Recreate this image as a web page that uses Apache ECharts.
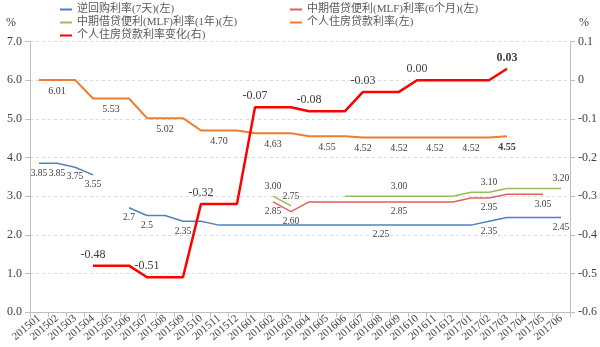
<!DOCTYPE html>
<html><head><meta charset="utf-8">
<script src="https://cdn.jsdelivr.net/npm/echarts@6/dist/echarts.min.js"></script>
<style>html,body{margin:0;padding:0;background:#fff}#c{width:600px;height:347px}</style>
</head><body><div id="c"></div>
<script>
const categories = ['201501','201502','201503','201504','201505','201506','201507','201508','201509','201510','201511','201512',
  '201601','201602','201603','201604','201605','201606','201607','201608','201609','201610','201611','201612',
  '201701','201702','201703','201704','201705','201706'];
const leftTicks = [0, 7, 1];
const rightTicks = [-0.6, 0.1, 0.1];

const reverseRepo7d = [3.85,3.85,3.75,3.55,null,2.7,2.5,2.5,2.35,2.35,
  2.25,2.25,2.25,2.25,2.25,2.25,2.25,2.25,2.25,2.25,2.25,2.25,2.25,2.25,2.25,
  2.35,2.45,2.45,2.45,2.45];
const mlf6m = [null,null,null,null,null,null,null,null,null,null,null,null,null,
  2.85,2.60,2.85,2.85,2.85,2.85,2.85,2.85,2.85,2.85,2.85,2.95,2.95,3.05,3.05,3.05,null];
const mlf1y = [null,null,null,null,null,null,null,null,null,null,null,null,null,
  3.00,2.75,null,null,3.00,3.00,3.00,3.00,3.00,3.00,3.00,3.10,3.10,3.20,3.20,3.20,3.20];
const housingRate = [6.01,6.01,6.01,5.53,5.53,5.53,5.02,5.02,5.02,4.70,4.70,4.70,4.63,4.63,4.63,4.55,4.55,4.55,
  4.52,4.52,4.52,4.52,4.52,4.52,4.52,4.52,4.55,null,null,null];
const housingChange = [null,null,null,-0.48,-0.48,-0.48,-0.51,-0.51,-0.51,-0.32,-0.32,-0.32,-0.07,-0.07,-0.07,
  -0.08,-0.08,-0.08,-0.03,-0.03,-0.03,0.00,0.00,0.00,0.00,0.00,0.03,null,null,null];

const repoLabelIdx = [0,1,2,3,5,6,8,19,25,29];
const mlf6mLabelIdx = [13,14,20,25,28];
const mlf1yLabelIdx = [13,14,20,25,29];
const housingLabelIdx = [1,4,7,10,13,16,18,20,22,24,26];
const changeLabelIdx = [3,6,9,12,15,18,21,26];
const boldLabelIdx = [26];

const names = ['逆回购利率(7天)(左)','中期借贷便利(MLF)利率(6个月)(左)','中期借贷便利(MLF)利率(1年)(左)','个人住房贷款利率(左)','个人住房贷款利率变化(右)'];
const colors = ['#4F81BD','#E0605C','#9BBB59','#ED7D31','#FF0000'];

const SERIF = '"Liberation Serif","Noto Sans CJK SC",serif';
const TXT = '#404040';

function build(values, idx, pos, dist, fmt, size, boldable) {
  return values.map((v, i) => {
    if (v === null) return '-';
    const show = idx.includes(i);
    return {value: v, label: {show: show, position: pos, distance: dist, formatter: fmt,
      fontFamily: SERIF, fontSize: size, color: TXT,
      fontWeight: boldable && boldLabelIdx.includes(i) ? 'bold' : 'normal'}};
  });
}
const f2 = p => Number(p.value).toFixed(2);
const fRaw = p => String(p.value);

function legendAt(i, left, top) {
  return {data: [names[i]], left: left, top: top, padding: 0, itemWidth: 12, itemHeight: 2, icon: 'rect',
    itemGap: 0, textStyle: {fontFamily: SERIF, fontSize: 11, color: '#595959', padding: [0,0,0,0]}};
}

const chart = echarts.init(document.getElementById('c'), null, {renderer: 'canvas'});
chart.setOption({
  animation: false,
  color: colors,
  legend: [legendAt(0, 60, 4), legendAt(1, 290, 4), legendAt(2, 60, 17), legendAt(3, 290, 17), legendAt(4, 60, 30)],
  grid: {left: 30, right: 30, top: 41.7, bottom: 35, containLabel: false},
  graphic: [
    {type: 'text', left: 6, top: 17, style: {text: '%', font: '12px "Liberation Serif"', fill: TXT}},
    {type: 'text', left: 579, top: 17, style: {text: '%', font: '12px "Liberation Serif"', fill: TXT}}
  ],
  xAxis: {
    type: 'category', data: categories, boundaryGap: true,
    axisLine: {lineStyle: {color: '#BFBFBF'}},
    axisTick: {show: true, alignWithLabel: false, length: 5, lineStyle: {color: '#BFBFBF'}, interval: 0},
    axisLabel: {interval: 0, rotate: 40, fontFamily: SERIF, fontSize: 11, color: TXT, margin: 5}
  },
  yAxis: [
    {type: 'value', min: leftTicks[0], max: leftTicks[1], interval: leftTicks[2], position: 'left',
      axisLine: {show: true, lineStyle: {color: '#BFBFBF'}},
      axisTick: {show: true, length: 5, lineStyle: {color: '#BFBFBF'}},
      axisLabel: {formatter: v => v.toFixed(1), fontFamily: SERIF, fontSize: 12, color: TXT, margin: 8},
      splitLine: {show: true, lineStyle: {color: '#D9D9D9', type: [3, 3]}}},
    {type: 'value', min: rightTicks[0], max: rightTicks[1], interval: rightTicks[2], position: 'right',
      axisLine: {show: true, lineStyle: {color: '#BFBFBF'}},
      axisTick: {show: true, length: 5, lineStyle: {color: '#BFBFBF'}},
      axisLabel: {formatter: v => Math.abs(v) < 1e-9 ? '0' : String(Math.round(v * 10) / 10),
        fontFamily: SERIF, fontSize: 12, color: TXT, margin: 8},
      splitLine: {show: false}}
  ],
  series: [
    {name: names[0], type: 'line', yAxisIndex: 0, data: build(reverseRepo7d, repoLabelIdx, 'bottom', 5, fRaw, 9.5, false),
      symbol: 'circle', symbolSize: 0.1, lineStyle: {width: 1.5, color: colors[0]}, itemStyle: {color: colors[0]}, silent: true},
    {name: names[1], type: 'line', yAxisIndex: 0, data: build(mlf6m, mlf6mLabelIdx, 'bottom', 5, f2, 9.5, false),
      symbol: 'circle', symbolSize: 0.1, lineStyle: {width: 1.5, color: colors[1]}, itemStyle: {color: colors[1]}, silent: true},
    {name: names[2], type: 'line', yAxisIndex: 0, data: build(mlf1y, mlf1yLabelIdx, 'top', 5, f2, 9.5, false),
      symbol: 'circle', symbolSize: 0.1, lineStyle: {width: 1.5, color: colors[2]}, itemStyle: {color: colors[2]}, silent: true},
    {name: names[3], type: 'line', yAxisIndex: 0, data: build(housingRate, housingLabelIdx, 'bottom', 6, f2, 10, true),
      symbol: 'circle', symbolSize: 0.1, lineStyle: {width: 2, color: colors[3]}, itemStyle: {color: colors[3]}, silent: true},
    {name: names[4], type: 'line', yAxisIndex: 1, data: build(housingChange, changeLabelIdx, 'top', 5, f2, 12, true),
      symbol: 'circle', symbolSize: 0.1, lineStyle: {width: 2.5, color: colors[4]}, itemStyle: {color: colors[4]}, silent: true}
  ]
});
</script></body></html>
